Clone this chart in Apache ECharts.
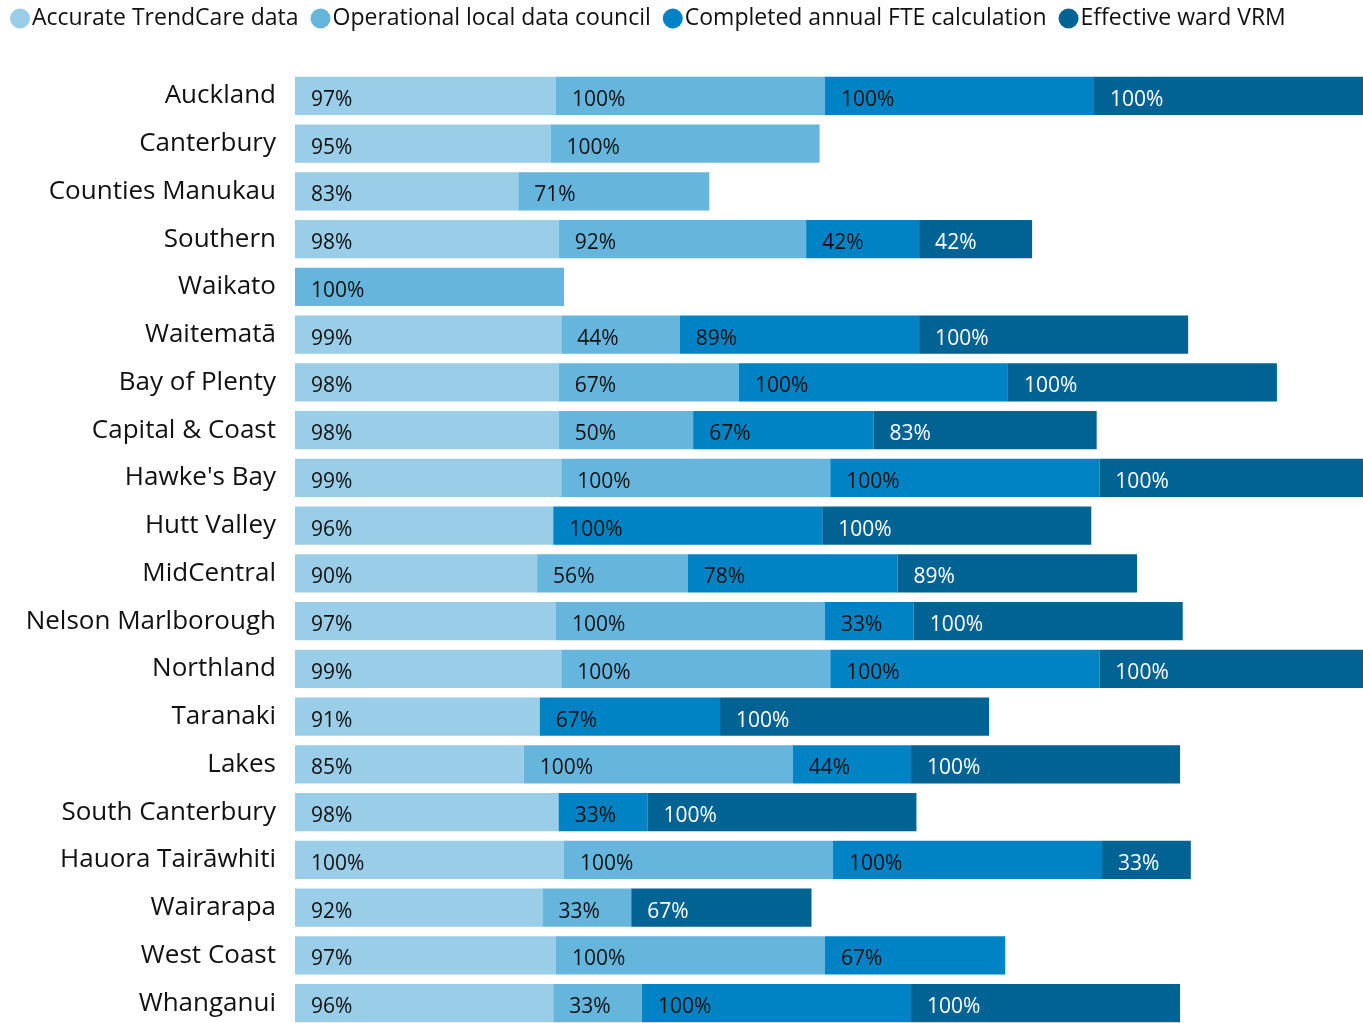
<!DOCTYPE html>
<html lang="en">
  <head>
    <meta charset="UTF-8" />
    <title>DHB data quality</title>
    <script src="https://cdn.jsdelivr.net/npm/echarts@6/dist/echarts.min.js"></script>
  </head>
  <body style="margin:0">
    <div id="container" style="width: 1363px;height: 1023px"></div>
    <script>
      // categories, top to bottom
      var regions = ['Auckland', 'Canterbury', 'Counties Manukau', 'Southern', 'Waikato', 'Waitematā',
        'Bay of Plenty', 'Capital & Coast', "Hawke's Bay", 'Hutt Valley', 'MidCentral',
        'Nelson Marlborough', 'Northland', 'Taranaki', 'Lakes', 'South Canterbury',
        'Hauora Tairāwhiti', 'Wairarapa', 'West Coast', 'Whanganui']
      var seriesNames = ['Accurate TrendCare data', 'Operational local data council',
        'Completed annual FTE calculation', 'Effective ward VRM']
      // null = no segment
      var accurate = [97, 95, 83, 98, null, 99, 98, 98, 99, 96, 90, 97, 99, 91, 85, 98, 100, 92, 97, 96]
      var operational = [100, 100, 71, 92, 100, 44, 67, 50, 100, null, 56, 100, 100, null, 100, null, 100, 33, 100, 33]
      var fteCalc = [100, null, null, 42, null, 89, 100, 67, 100, 100, 78, 33, 100, 67, 44, 33, 100, null, 67, 100]
      var wardVrm = [100, null, null, 42, null, 100, 100, 83, 100, 100, 89, 100, 100, 100, 100, 100, 33, 67, null, 100]

      var colors = ['#9acde8', '#66b5dc', '#0083c4', '#006394']
      var labelColors = ['#111', '#111', '#111', '#fff']
      var values = [accurate, operational, fteCalc, wardVrm]

      var myChart = echarts.init(document.querySelector('#container'))
      myChart.setOption({
        backgroundColor: '#fff',
        color: colors,
        textStyle: { fontFamily: 'Open Sans' },
        legend: {
          left: 5,
          top: 2,
          icon: 'circle',
          itemWidth: 20,
          itemHeight: 20,
          itemGap: 12,
          textStyle: { fontSize: 23, color: '#111', padding: [0, 0, 0, -3] }
        },
        grid: { left: 295, top: 72, right: 0, bottom: -4, containLabel: false, outerBoundsMode: 'none' },
        xAxis: { type: 'value', min: 0, max: 397, show: false },
        yAxis: {
          type: 'category',
          data: regions,
          inverse: true,
          axisLine: { show: false },
          axisTick: { show: false },
          axisLabel: { fontSize: 26, color: '#111', margin: 19 }
        },
        series: values.map(function (v, i) {
          return {
            name: seriesNames[i],
            type: 'bar',
            stack: 'total',
            barCategoryGap: '20%',
            clip: false,
            data: v,
            label: {
              show: true,
              position: 'insideLeft',
              offset: [11, 4],
              fontSize: 21,
              color: labelColors[i],
              formatter: function (p) { return p.value + '%' }
            }
          }
        })
      })
    </script>
  </body>
</html>
